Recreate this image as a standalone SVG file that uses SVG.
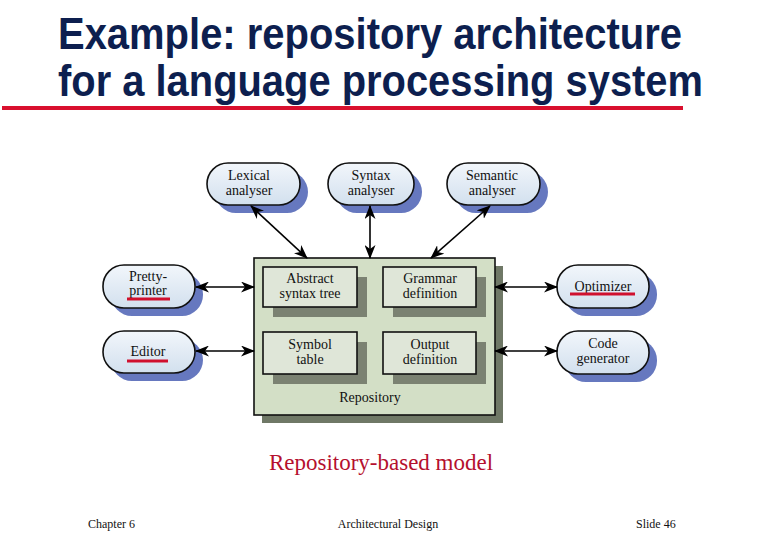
<svg xmlns="http://www.w3.org/2000/svg" width="780" height="540" viewBox="0 0 780 540">
<defs>
<marker id="ah" viewBox="0 0 14 11" refX="13" refY="5.5" markerWidth="14" markerHeight="11" markerUnits="userSpaceOnUse" orient="auto-start-reverse">
<path d="M0,0 L14,5.5 L0,11 L4,5.5 Z" fill="#000"/>
</marker>
<linearGradient id="pill" x1="0" y1="0" x2="0" y2="1">
<stop offset="0" stop-color="#f2f6fb"/>
<stop offset="1" stop-color="#d2e0ee"/>
</linearGradient>
</defs>
<style>
.title{font-family:"Liberation Sans",Arial,sans-serif;font-weight:bold;font-size:44px;fill:#0d1f4f}
.lbl{font-family:"Liberation Serif","Times New Roman",serif;font-size:14px;fill:#111;text-anchor:middle}
.pill{fill:url(#pill);stroke:#111;stroke-width:1.6}
.pshadow{fill:#6678bf}
.repo{fill:#d3dfc6;stroke:#111;stroke-width:1.6}
.rshadow{fill:#6f7866}
.inner{fill:#dfe6d8;stroke:#111;stroke-width:1.6}
.ishadow{fill:#7b8272}
.con{stroke:#000;stroke-width:1.6;fill:none;marker-start:url(#ah);marker-end:url(#ah)}
.ul{stroke:#d0102e;stroke-width:3}
.foot{font-family:"Liberation Serif","Times New Roman",serif;font-size:12px;fill:#111}
</style>
<rect width="780" height="540" fill="#fff"/>
<text class="title" x="58" y="49" textLength="624" lengthAdjust="spacingAndGlyphs">Example: repository architecture</text>
<text class="title" x="58" y="96" textLength="645" lengthAdjust="spacingAndGlyphs">for a language processing system</text>
<rect x="2" y="106" width="681" height="4" fill="#d9102e"/>

<g id="repository">
<rect class="rshadow" x="262" y="266" width="241" height="157"/>
<rect class="repo" x="254" y="258" width="241" height="157"/>
<text class="lbl" x="370" y="402">Repository</text>
</g>
<g id="ast">
<rect class="ishadow" x="273" y="277" width="94" height="40"/>
<rect class="inner" x="263" y="267" width="94" height="40"/>
<text class="lbl" x="310" y="283">Abstract</text>
<text class="lbl" x="310" y="298">syntax tree</text>
</g>
<g id="grammar">
<rect class="ishadow" x="393" y="277" width="93" height="40"/>
<rect class="inner" x="383" y="267" width="93" height="40"/>
<text class="lbl" x="430" y="283">Grammar</text>
<text class="lbl" x="430" y="298">definition</text>
</g>
<g id="symbol">
<rect class="ishadow" x="273" y="342" width="94" height="42"/>
<rect class="inner" x="263" y="332" width="94" height="42"/>
<text class="lbl" x="310" y="349">Symbol</text>
<text class="lbl" x="310" y="364">table</text>
</g>
<g id="output">
<rect class="ishadow" x="393" y="342" width="93" height="42"/>
<rect class="inner" x="383" y="332" width="93" height="42"/>
<text class="lbl" x="430" y="349">Output</text>
<text class="lbl" x="430" y="364">definition</text>
</g>

<g id="lexical">
<rect class="pshadow" x="215" y="171" width="93" height="42" rx="21"/>
<rect class="pill" x="207" y="163" width="93" height="42" rx="21"/>
<text class="lbl" x="249" y="180">Lexical</text>
<text class="lbl" x="249" y="195">analyser</text>
</g>
<g id="syntax">
<rect class="pshadow" x="336" y="171" width="86" height="42" rx="21"/>
<rect class="pill" x="328" y="163" width="86" height="42" rx="21"/>
<text class="lbl" x="371" y="180">Syntax</text>
<text class="lbl" x="371" y="195">analyser</text>
</g>
<g id="semantic">
<rect class="pshadow" x="455" y="171" width="93" height="42" rx="21"/>
<rect class="pill" x="447" y="163" width="93" height="42" rx="21"/>
<text class="lbl" x="492" y="180">Semantic</text>
<text class="lbl" x="492" y="195">analyser</text>
</g>
<g id="pretty">
<rect class="pshadow" x="111" y="273" width="92" height="43" rx="21"/>
<rect class="pill" x="103" y="265" width="92" height="43" rx="21"/>
<text class="lbl" x="148" y="281">Pretty-</text>
<text class="lbl" x="148" y="295">printer</text>
<line class="ul" x1="127" y1="299" x2="170" y2="299"/>
</g>
<g id="editor">
<rect class="pshadow" x="111" y="339" width="92" height="42" rx="21"/>
<rect class="pill" x="103" y="331" width="92" height="42" rx="21"/>
<text class="lbl" x="148" y="356">Editor</text>
<line class="ul" x1="127" y1="361" x2="168" y2="361"/>
</g>
<g id="optimizer">
<rect class="pshadow" x="565" y="273" width="92" height="43" rx="21"/>
<rect class="pill" x="557" y="265" width="92" height="43" rx="21"/>
<text class="lbl" x="603" y="291">Optimizer</text>
<line class="ul" x1="570" y1="294" x2="635" y2="294"/>
</g>
<g id="codegen">
<rect class="pshadow" x="565" y="339" width="92" height="43" rx="21"/>
<rect class="pill" x="557" y="331" width="92" height="43" rx="21"/>
<text class="lbl" x="603" y="348">Code</text>
<text class="lbl" x="603" y="363">generator</text>
</g>

<g id="connectors">
<line class="con" x1="251" y1="206" x2="307" y2="258"/>
<line class="con" x1="370" y1="206" x2="370" y2="258"/>
<line class="con" x1="490" y1="206" x2="431" y2="258"/>
<line class="con" x1="196" y1="287" x2="254" y2="287"/>
<line class="con" x1="196" y1="351" x2="254" y2="351"/>
<line class="con" x1="495" y1="287" x2="557" y2="287"/>
<line class="con" x1="495" y1="351" x2="557" y2="351"/>
</g>

<text x="381" y="470" font-family="Liberation Serif,Times New Roman,serif" font-size="23" fill="#b5102e" text-anchor="middle">Repository-based model</text>
<text class="foot" x="88" y="528">Chapter 6</text>
<text class="foot" x="388" y="528" text-anchor="middle">Architectural Design</text>
<text class="foot" x="636" y="528">Slide  46</text>
</svg>
